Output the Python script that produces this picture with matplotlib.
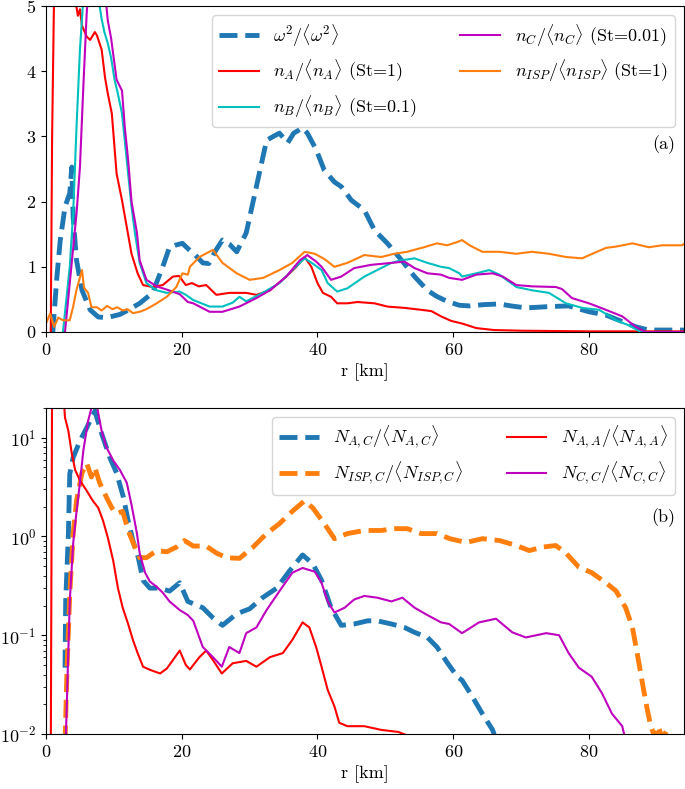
import matplotlib
matplotlib.use('Agg')
import matplotlib.pyplot as plt

plt.rcParams['font.family'] = 'serif'
plt.rcParams['font.serif'] = ['cmr10']
plt.rcParams['mathtext.fontset'] = 'cm'
plt.rcParams['axes.formatter.use_mathtext'] = True
plt.rcParams['font.size'] = 13

# ---- panel (a): normalised profiles ----
omega_r = [1.0, 1.6, 2.1, 2.8, 3.5, 3.8, 4.0, 4.5, 5.3, 6.5, 7.7, 9, 10.9, 12, 13.8, 15.7,
           17.2, 18.2, 19, 20.1, 20.9, 22, 23.1, 24, 25, 26, 27, 28.1, 29.5, 31, 32.5, 33.5,
           34.4, 35.6, 36.5, 37.8, 38.5, 39.8, 41, 42.5, 43.5, 45, 46.9, 48.4, 50.3, 52.4,
           54.3, 56.2, 57.5, 59.1, 60.9, 62.4, 64.5, 66.8, 68.5, 70.7, 72.5, 74.1, 77, 80,
           82.5, 84.4, 86.9, 88.8, 91, 94]
omega_v = [0, 0.84, 1.41, 1.92, 2.13, 2.53, 1.76, 1.1, 0.64, 0.34, 0.23, 0.22, 0.27, 0.33,
           0.44, 0.6, 1.0, 1.3, 1.33, 1.36, 1.28, 1.18, 1.06, 1.05, 1.25, 1.41, 1.35, 1.23,
           1.52, 2.23, 2.94, 3.0, 3.05, 2.9, 3.05, 3.13, 3.05, 2.8, 2.48, 2.3, 2.23, 2.02,
           1.87, 1.56, 1.36, 1.1, 0.85, 0.64, 0.55, 0.47, 0.41, 0.4, 0.42, 0.43, 0.4, 0.37,
           0.38, 0.39, 0.4, 0.31, 0.26, 0.18, 0.08, 0.03, 0.03, 0.03]

nA_r = [0.7, 0.9, 1.3, 4.3, 4.7, 5.0, 5.3, 6.0, 6.5, 7.2, 7.5, 8.2, 8.7, 9.1, 9.7, 10.4,
        11.2, 11.9, 12.6, 13.5, 14.3, 15.7, 17.2, 18.7, 19.6, 20.6, 21.5, 22.5, 23.6, 25.1,
        27, 29.5, 31, 33, 35.4, 36.9, 38.1, 39.1, 40, 40.8, 42, 42.9, 44.4, 45.9, 48.4,
        50.3, 52.8, 55.3, 56.8, 58.2, 59.7, 61.3, 63.4, 66, 70, 80, 94]
nA_v = [0, 3.0, 6.0, 5.1, 4.85, 4.95, 4.7, 4.53, 4.48, 4.6, 4.55, 4.33, 3.9, 3.66, 3.35,
        2.43, 2.02, 1.61, 1.2, 0.9, 0.72, 0.69, 0.72, 0.85, 0.86, 0.72, 0.75, 0.7, 0.72,
        0.57, 0.6, 0.6, 0.57, 0.64, 0.85, 1.0, 1.15, 1.0, 0.75, 0.6, 0.54, 0.44, 0.44, 0.46,
        0.44, 0.39, 0.37, 0.34, 0.32, 0.24, 0.17, 0.13, 0.06, 0.03, 0.02, 0.01, 0.01]

nB_r = [2.5, 3.5, 4, 4.5, 5, 5.3, 5.6, 7.6, 7.9, 8.2, 8.6, 9.1, 9.6, 10.1, 10.6, 11.2, 11.6,
        12.1, 12.6, 13.1, 13.8, 14.8, 16.3, 17.8, 19.7, 20.6, 21.7, 24.1, 26, 27.5, 28.5,
        29.5, 31.9, 34.4, 36.3, 38.1, 39.3, 40.6, 41.5, 42.9, 44.4, 46.9, 48.8, 50.9, 52.4,
        54.3, 56.2, 58.2, 59.4, 60.9, 61.3, 63.4, 65.3, 66.8, 69.3, 71.6, 74.1, 76.6, 79,
        81.5, 84, 85.9, 87.6, 94]
nB_v = [0, 1.0, 1.82, 3.15, 4.33, 4.8, 5.3, 5.3, 5.0, 4.8, 4.6, 4.43, 4.2, 3.87, 3.65, 3.35,
        2.94, 2.43, 1.92, 1.52, 1.06, 0.75, 0.64, 0.6, 0.62, 0.57, 0.49, 0.39, 0.39, 0.45,
        0.54, 0.47, 0.6, 0.75, 0.95, 1.13, 1.05, 0.95, 0.75, 0.62, 0.67, 0.85, 0.95, 1.06,
        1.1, 1.13, 1.06, 1.0, 0.98, 0.9, 0.85, 0.9, 0.95, 0.88, 0.69, 0.64, 0.6, 0.44, 0.37,
        0.34, 0.18, 0.1, 0, 0]

nC_r = [2.8, 3.5, 4.5, 5, 5.5, 6, 6.3, 8.6, 8.9, 9.1, 9.6, 10.4, 11.2, 11.6, 12.1, 12.6,
        13.4, 13.8, 14.8, 16.3, 17.8, 19.7, 20.9, 21.7, 24.1, 26, 28.5, 31, 33, 35.4, 37.4,
        38.5, 39.8, 40.6, 42, 43.5, 45.4, 47.9, 50.9, 52.8, 54.3, 56.2, 58.2, 59.4, 61.3,
        63.4, 65.8, 67.3, 69.3, 71.6, 75.1, 76, 77.5, 80, 82.5, 84.9, 86.9, 88.3, 94]
nC_v = [0, 0.75, 1.82, 2.53, 3.76, 4.9, 5.3, 5.3, 5.0, 4.78, 4.5, 3.87, 3.7, 3.15, 2.64, 2.0,
        1.52, 1.1, 0.8, 0.7, 0.65, 0.58, 0.46, 0.44, 0.31, 0.31, 0.39, 0.52, 0.64, 0.85, 1.1,
        1.18, 1.08, 1.0, 0.8, 0.85, 0.98, 1.03, 1.06, 1.08, 0.98, 0.9, 0.88, 0.83, 0.8, 0.88,
        0.9, 0.85, 0.72, 0.7, 0.69, 0.66, 0.52, 0.44, 0.34, 0.24, 0.08, 0, 0]

nISP_r = [0, 0.6, 1.2, 1.8, 2.5, 3.5, 4, 4.5, 5.3, 5.6, 6.2, 6.7, 7.5, 8.2, 9, 9.8, 10.5,
          11.3, 12, 12.8, 13.8, 14.8, 16.3, 17.8, 19.2, 20.1, 20.9, 21.2, 22.6, 24.6, 26,
          28.1, 30, 32, 34.4, 36.3, 38.1, 39.6, 41, 42.5, 44.4, 46.9, 49.4, 51.3, 53.2, 55.7,
          57.6, 59.1, 60.6, 61.3, 62.4, 64.3, 66.8, 69.3, 71.6, 74.1, 76.6, 79, 80.5, 82.5,
          84, 86.4, 88.8, 90.8, 93.7, 94]
nISP_v = [0.13, 0.28, 0.08, 0.22, 0.18, 0.18, 0.39, 0.65, 0.95, 0.68, 0.6, 0.38, 0.38, 0.33,
          0.4, 0.35, 0.38, 0.33, 0.35, 0.29, 0.31, 0.35, 0.44, 0.54, 0.69, 0.9, 0.88, 1.0,
          1.15, 1.26, 1.06, 0.9, 0.8, 0.83, 0.95, 1.06, 1.23, 1.2, 1.12, 1.0, 1.06, 1.18, 1.15,
          1.2, 1.23, 1.3, 1.36, 1.33, 1.38, 1.41, 1.33, 1.23, 1.23, 1.2, 1.23, 1.2, 1.15, 1.13,
          1.2, 1.29, 1.31, 1.36, 1.3, 1.33, 1.33, 1.35]

# ---- panel (b): pair counts ----
NAC_r = [2.8, 2.9, 3.3, 3.5, 4.0, 5.0, 6.0, 7.2, 8.2, 9.4, 10.4, 11.4, 12.1, 12.8, 13.6,
         14.3, 15.3, 16.8, 18.2, 19.7, 20.9, 23.1, 24.6, 26, 28.1, 30, 31.9, 34, 35.9, 37.8,
         39.3, 40.6, 42, 43.5, 45.4, 47.4, 48.8, 50.9, 52.8, 54.3, 56.2, 57.6, 59.1, 60.6,
         61.3, 62.8, 64.3, 65.8, 66.5]
NAC_v = [0.047, 0.22, 1.07, 4.3, 6.3, 9.3, 12.6, 18.6, 11, 6.3, 4.4, 2.5, 1.45, 0.91, 0.61,
         0.36, 0.3, 0.3, 0.28, 0.34, 0.22, 0.19, 0.15, 0.126, 0.165, 0.185, 0.24, 0.3, 0.45,
         0.65, 0.53, 0.36, 0.19, 0.126, 0.13, 0.14, 0.14, 0.13, 0.12, 0.107, 0.095, 0.076,
         0.053, 0.038, 0.035, 0.024, 0.016, 0.011, 0.008]

NISPC_r = [2.8, 3.1, 3.5, 4, 4.5, 5.3, 6, 6.7, 7.2, 7.9, 8.9, 9.7, 10.4, 11.3, 12.1, 13.1,
           13.8, 14.8, 16.3, 17.8, 19.2, 20.4, 21.7, 23.6, 25.1, 26.6, 28.5, 30.5, 32.5, 34.4,
           36.3, 38.1, 39.3, 41, 42.5, 44.4, 46.9, 49.4, 51.3, 53.2, 55.3, 57.6, 59.5, 61.9,
           64.3, 66.8, 69.3, 71.2, 73.1, 75.1, 76.6, 78.5, 80.4, 82.5, 84, 85.4, 86.4, 87.1,
           87.8, 88.5, 89.1, 89.8, 90.2, 90.8, 91.5, 92]
NISPC_v = [0.008, 0.047, 0.26, 1.07, 2.3, 4.4, 5.5, 4.0, 5.0, 3.5, 2.5, 1.95, 1.7, 1.8, 1.15,
           0.78, 0.61, 0.61, 0.72, 0.7, 0.78, 0.91, 0.8, 0.8, 0.68, 0.61, 0.6, 0.78, 1.07,
           1.35, 1.8, 2.3, 1.95, 1.35, 0.95, 1.07, 1.15, 1.15, 1.2, 1.2, 1.07, 1.07, 0.95,
           0.87, 0.95, 0.91, 0.81, 0.72, 0.78, 0.81, 0.68, 0.49, 0.43, 0.34, 0.28, 0.19, 0.12,
           0.066, 0.035, 0.019, 0.012, 0.009, 0.012, 0.009, 0.011, 0.008]

NAA_r = [0.7, 0.9, 2.4, 2.8, 3.3, 3.8, 4.3, 5, 6, 6.9, 7.7, 8.4, 9.1, 9.9, 10.6, 11.3, 12.1,
         12.8, 13.5, 14.3, 15.2, 16.8, 17.8, 18.7, 19.7, 20.6, 21.2, 22.6, 23.6, 24.6, 25.9,
         27.5, 29.5, 31, 33, 34.9, 36.3, 37.8, 38.8, 39.8, 40.6, 41.5, 42.5, 43.2, 44.4,
         46.9, 49.4, 51.9, 53.5, 54]
NAA_v = [0.005, 40, 40, 16, 11.7, 6.9, 4.7, 3.7, 2.9, 2.3, 1.95, 1.45, 0.98, 0.57, 0.3, 0.19,
         0.13, 0.09, 0.066, 0.048, 0.045, 0.041, 0.046, 0.056, 0.07, 0.05, 0.045, 0.06, 0.07,
         0.056, 0.041, 0.052, 0.055, 0.048, 0.06, 0.066, 0.09, 0.135, 0.12, 0.076, 0.048,
         0.028, 0.019, 0.013, 0.012, 0.012, 0.011, 0.0105, 0.0095, 0.008]

NCC_r = [2.9, 3.5, 4, 4.5, 5, 5.5, 6.2, 6.7, 7.0, 7.5, 8.2, 8.9, 9.9, 10.9, 11.9, 12.6, 13.4,
         13.8, 14.6, 15.3, 16.3, 17.2, 18.2, 19.7, 20.9, 21.7, 23.1, 24.6, 25.9, 27, 28.5,
         29.5, 31, 32.5, 34.4, 36.3, 37.8, 39.6, 40.6, 41.5, 42.5, 44, 45.4, 46.9, 48.8, 50.9,
         52.5, 54.3, 56.2, 58.2, 59.4, 61.3, 63.8, 66.3, 68.7, 70.7, 73.7, 75.6, 77, 78.5,
         80.4, 81.9, 83.4, 84.9, 85.5]
NCC_v = [0.008, 0.22, 0.85, 1.8, 3.5, 7.4, 14.8, 20, 23, 21, 11.7, 8, 5.9, 4.7, 3.5, 2.1,
         1.07, 0.68, 0.43, 0.35, 0.31, 0.27, 0.22, 0.18, 0.16, 0.14, 0.076, 0.06, 0.048,
         0.076, 0.066, 0.105, 0.12, 0.18, 0.28, 0.43, 0.48, 0.44, 0.34, 0.22, 0.17, 0.19,
         0.23, 0.25, 0.24, 0.22, 0.24, 0.19, 0.16, 0.135, 0.13, 0.105, 0.135, 0.147, 0.107,
         0.095, 0.105, 0.1, 0.066, 0.047, 0.038, 0.026, 0.016, 0.012, 0.008]

fig = plt.figure(figsize=(6.85, 7.89), dpi=100)
ax1 = fig.add_axes([46/685, 1 - 332/789, 638/685, 326/789])
ax2 = fig.add_axes([46/685, 1 - 734/789, 638/685, 326/789])

ax1.plot(omega_r, omega_v, '--', color='C0', lw=3.5, label=r'$\omega^2/\langle\omega^2\rangle$')
ax1.plot(nA_r, nA_v, color='r', lw=1.5, label=r'$n_A/\langle n_A\rangle$ (St=1)')
ax1.plot(nB_r, nB_v, color='c', lw=1.5, label=r'$n_B/\langle n_B\rangle$ (St=0.1)')
ax1.plot(nC_r, nC_v, color='m', lw=1.5, label=r'$n_C/\langle n_C\rangle$ (St=0.01)')
ax1.plot(nISP_r, nISP_v, color='C1', lw=1.5, label=r'$n_{ISP}/\langle n_{ISP}\rangle$ (St=1)')
ax1.set_xlim(0, 94)
ax1.set_ylim(0, 5)
ax1.set_xlabel('r [km]')
ax1.legend(loc='upper right', ncol=2, columnspacing=2.4, handlelength=2.2)
ax1.text(0.986, 0.574, '(a)', transform=ax1.transAxes, ha='right', va='center')

ax2.plot(NAC_r, NAC_v, '--', color='C0', lw=3.5, label=r'$N_{A,C}/\langle N_{A,C}\rangle$')
ax2.plot(NISPC_r, NISPC_v, '--', color='C1', lw=3.5, label=r'$N_{ISP,C}/\langle N_{ISP,C}\rangle$')
ax2.plot(NAA_r, NAA_v, color='r', lw=1.5, label=r'$N_{A,A}/\langle N_{A,A}\rangle$')
ax2.plot(NCC_r, NCC_v, color='m', lw=1.5, label=r'$N_{C,C}/\langle N_{C,C}\rangle$')
ax2.set_yscale('log')
ax2.set_xlim(0, 94)
ax2.set_ylim(1e-2, 20)
ax2.set_xlabel('r [km]')
ax2.legend(loc='upper right', ncol=2, columnspacing=2.4, handlelength=2.2)
ax2.text(0.986, 0.663, '(b)', transform=ax2.transAxes, ha='right', va='center')

fig.savefig('out.png', dpi=100)
